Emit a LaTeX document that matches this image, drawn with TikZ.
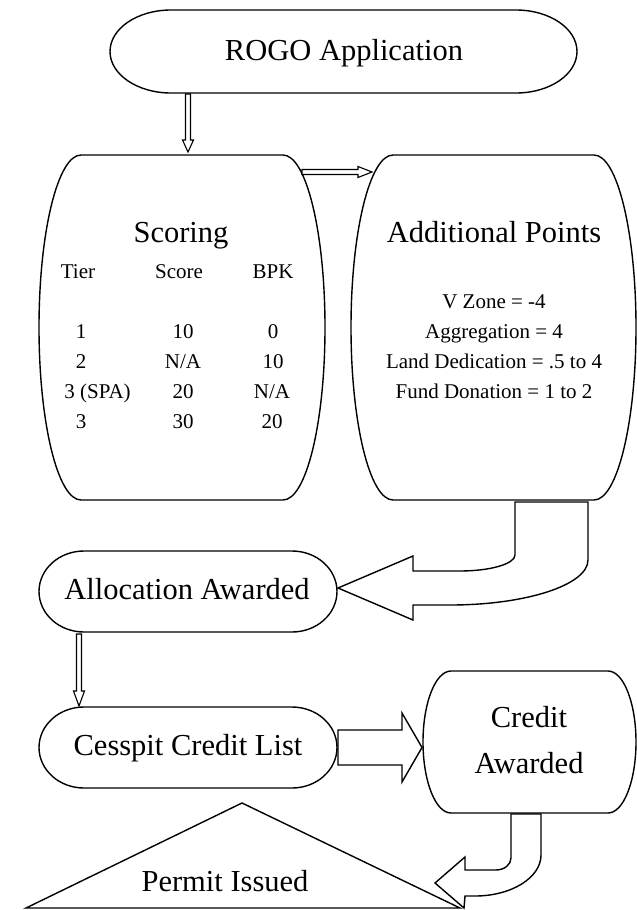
\documentclass[tikz,border=0pt]{standalone}
\usepackage{fontspec}
\setmainfont{Liberation Serif}
\tikzset{
  shapeline/.style={draw=black, line width=1.4pt, fill=white, line join=round},
  arrowline/.style={draw=black, line width=1.1pt, fill=white, line join=miter},
  bigtext/.style={font=\fontsize{30.5}{36}\selectfont, inner sep=0pt, anchor=base},
  smalltext/.style={font=\fontsize{21}{25}\selectfont, inner sep=0pt, anchor=base},
}
\begin{document}
\begin{tikzpicture}[x=1pt, y=-1pt]
\useasboundingbox (0,0) rectangle (637,910);

% ROGO Application
\draw[shapeline] (171,10) -- (516,10)
  arc[start angle=-90, end angle=90, x radius=61, y radius=41.5] -- (171,93)
  arc[start angle=90, end angle=270, x radius=61, y radius=41.5] -- cycle;

% Scoring barrel
\draw[shapeline] (81,155) -- (283,155)
  arc[start angle=-90, end angle=90, x radius=42, y radius=172.5] -- (81,500)
  arc[start angle=90, end angle=270, x radius=42, y radius=172.5] -- cycle;

% Additional Points barrel
\draw[shapeline] (393,155) -- (594,155)
  arc[start angle=-90, end angle=90, x radius=42, y radius=172.5] -- (393,500)
  arc[start angle=90, end angle=270, x radius=42, y radius=172.5] -- cycle;

% Allocation Awarded
\draw[shapeline] (84,551) -- (292,551)
  arc[start angle=-90, end angle=90, x radius=45, y radius=40.5] -- (84,632)
  arc[start angle=90, end angle=270, x radius=45, y radius=40.5] -- cycle;

% Cesspit Credit List
\draw[shapeline] (84,707) -- (292,707)
  arc[start angle=-90, end angle=90, x radius=45, y radius=40.5] -- (84,788)
  arc[start angle=90, end angle=270, x radius=45, y radius=40.5] -- cycle;

% Credit Awarded barrel
\draw[shapeline] (451,671) -- (608,671)
  arc[start angle=-90, end angle=90, x radius=28, y radius=71] -- (451,813)
  arc[start angle=90, end angle=270, x radius=28, y radius=71] -- cycle;

% Permit Issued triangle
\draw[shapeline, line join=miter] (242,803) -- (460,908) -- (26,908) -- cycle;

% thin arrow ROGO -> Scoring
\draw[arrowline] (185.5,94) -- (190.5,94) -- (190.5,140) -- (193.5,140) -- (188,152)
  -- (182.5,140) -- (185.5,140) -- cycle;

% thin arrow Scoring -> Additional Points
\draw[arrowline] (302,169.5) -- (358,169.5) -- (358,166.5) -- (372,172) -- (358,177.5)
  -- (358,174.5) -- (302,174.5) -- cycle;

% thin arrow Allocation -> Cesspit
\draw[arrowline] (76.5,634) -- (81.5,634) -- (81.5,691) -- (84.5,691) -- (79,706)
  -- (73.5,691) -- (76.5,691) -- cycle;

% block arrow Cesspit -> Credit
\draw[shapeline, line join=miter] (338,730) -- (402,730) -- (402,713) -- (422,747.5) -- (402,782)
  -- (402,765) -- (338,765) -- cycle;

% curved arrow Additional Points -> Allocation
\draw[shapeline, line join=miter] (515,502) -- (515,555)
  arc[start angle=0, end angle=90, x radius=55, y radius=16] -- (413,571) -- (413,556)
  -- (338,588) -- (413,620) -- (413,605) -- (450,605)
  arc[start angle=90, end angle=0, x radius=138, y radius=45] -- (588,502) -- cycle;

% curved arrow Credit -> Permit
\draw[shapeline, line join=miter] (511,814) -- (511,858)
  arc[start angle=0, end angle=90, x radius=15, y radius=12] -- (465,870) -- (465,857)
  -- (435,883) -- (464,908) -- (465,896) -- (475,896)
  arc[start angle=90, end angle=0, x radius=66, y radius=41] -- (541,814) -- cycle;

% texts
\node[bigtext] (rogo) at (344,60) {ROGO Application};
\node[bigtext] (scoring) at (181,242) {Scoring};
\node[bigtext] (addpts) at (494,242) {Additional Points};

\node[smalltext] (hTier) at (78,278) {Tier};
\node[smalltext] (hScore) at (179,278) {Score};
\node[smalltext] (hBPK) at (273,278) {BPK};

\node[smalltext] (r1a) at (81,338) {1};
\node[smalltext] (r1b) at (183,338) {10};
\node[smalltext] (r1c) at (273,338) {0};
\node[smalltext] (r2a) at (81,368) {2};
\node[smalltext] (r2b) at (183,368) {N/A};
\node[smalltext] (r2c) at (273,368) {10};
\node[smalltext] (r3a) at (97.5,398) {3 (SPA)};
\node[smalltext] (r3b) at (183,398) {20};
\node[smalltext] (r3c) at (272,398) {N/A};
\node[smalltext] (r4a) at (81,428) {3};
\node[smalltext] (r4b) at (183,428) {30};
\node[smalltext] (r4c) at (272,428) {20};

\node[smalltext] (vzone) at (494,308) {V Zone = -4};
\node[smalltext] (aggr) at (494,338) {Aggregation = 4};
\node[smalltext] (land) at (494,368) {Land Dedication = .5 to 4};
\node[smalltext] (fund) at (494,398) {Fund Donation = 1 to 2};

\node[bigtext] (alloc) at (187,599) {Allocation Awarded};
\node[bigtext] (cesspit) at (188,755) {Cesspit Credit List};
\node[bigtext] (credit1) at (529,727) {Credit};
\node[bigtext] (credit2) at (529,773) {Awarded};
\node[bigtext] (permit) at (225,891) {Permit Issued};
\end{tikzpicture}
\end{document}
